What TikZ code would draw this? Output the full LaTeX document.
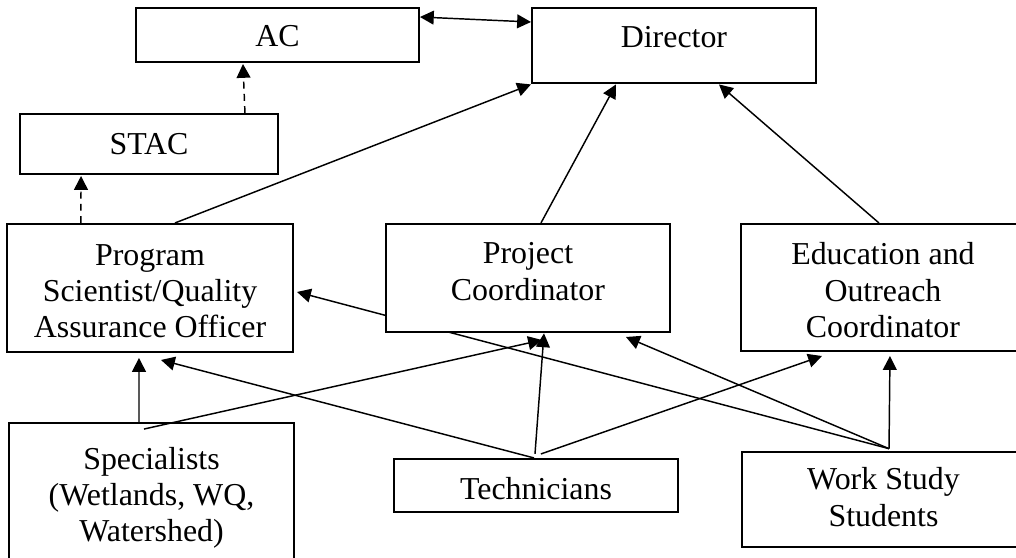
\documentclass[tikz,border=0pt]{standalone}
\usepackage{fontspec}
\setmainfont{Liberation Serif}
\usetikzlibrary{arrows.meta, calc, backgrounds}
\newcommand\boxtext[2]{\raisebox{#1}[0pt][0pt]{\begin{tabular}[t]{@{}c@{}}#2\end{tabular}}}

\begin{document}
\begin{tikzpicture}[font=\fontsize{12}{13.7}\selectfont, >={Triangle[length=5.2pt, width=5.2pt]},
    box/.style={draw, fill=white, line width=0.75pt, inner sep=0pt, align=center},
    link/.style={->, line width=0.55pt},
    advise/.style={link, dash pattern=on 2.6pt off 2pt}]
  \useasboundingbox (0,0) rectangle (13.432,-7.377);
  % boxes
  \node[box, minimum width=3.741cm, minimum height=0.714cm] (ac) at (3.668,-0.463) {\boxtext{-4.5pt}{AC}};
  \node[box, minimum width=3.754cm, minimum height=0.992cm] (dir) at (8.910,-0.602) {\boxtext{-0.6pt}{Director}};
  \node[box, minimum width=3.411cm, minimum height=0.793cm] (stac) at (1.970,-1.904) {\boxtext{-3.8pt}{STAC}};
  \node[box, minimum width=3.781cm, minimum height=1.692cm] (prog) at (1.983,-3.807) {\boxtext{8.6pt}{Program\\ Scientist/Quality\\ Assurance Officer}};
  \node[box, minimum width=3.754cm, minimum height=1.428cm] (proj) at (6.980,-3.675) {\boxtext{5.3pt}{Project\\ Coordinator}};
  \node[box, minimum width=3.754cm, minimum height=1.679cm] (edu) at (11.673,-3.801) {\boxtext{8.5pt}{Education and\\ Outreach\\ Coordinator}};
  \node[box, minimum width=3.768cm, minimum height=1.943cm] (spec) at (2.003,-6.564) {\boxtext{10.3pt}{Specialists\\ (Wetlands, WQ,\\ Watershed)}};
  \node[box, minimum width=3.754cm, minimum height=0.701cm] (tech) at (7.086,-6.418) {\boxtext{-5.4pt}{Technicians}};
  \node[box, minimum width=3.741cm, minimum height=1.256cm] (ws) at (11.680,-6.603) {\boxtext{3.6pt}{Work Study\\ Students}};
  \coordinate (wstop) at ($(ws.north west)+(1.957,0.03)$);
  % links
  \draw[link, <->] ($(ac.north east)+(0,-0.132)$) -- ($(dir.north west)+(0,-0.198)$);
  \draw[advise] ($(stac.north east)+(-0.45,0)$) -- ($(ac.south west)+(1.428,-0.013)$);
  \draw[advise] ($(prog.north west)+(0.99,0)$) -- ($(stac.south west)+(0.82,-0.013)$);
  \draw[link] ($(prog.north west)+(2.234,0)$) -- ($(dir.south west)+(0,-0.005)$);
  \draw[link] ($(proj.north west)+(2.062,0)$) -- ($(dir.south west)+(1.124,-0.005)$);
  \draw[link] ($(edu.north west)+(1.838,0)$) -- ($(dir.south west)+(2.485,-0.005)$);
  \begin{scope}[on background layer]
    \draw[link] (wstop) -- ($(prog.east)+(0.04,-0.053)$);
  \end{scope}
  \draw[link] (wstop) -- ($(proj.south west)+(3.186,-0.053)$);
  \draw[link] (wstop) -- ($(edu.south west)+(1.983,-0.053)$);
  \draw[link] ($(spec.north west)+(1.732,0)$) -- ($(prog.south west)+(1.758,-0.066)$);
  \draw[link] ($(spec.north west)+(1.798,-0.093)$) -- ($(proj.south west)+(2.075,-0.093)$);
  \draw[link] ($(tech.north west)+(1.864,0)$) -- ($(prog.south west)+(2.049,-0.093)$);
  \draw[link] ($(tech.north west)+(1.877,0.053)$) -- ($(proj.south west)+(2.102,-0.005)$);
  \draw[link] ($(tech.north west)+(1.956,0.053)$) -- ($(edu.south west)+(1.084,-0.053)$);
\end{tikzpicture}
\end{document}
